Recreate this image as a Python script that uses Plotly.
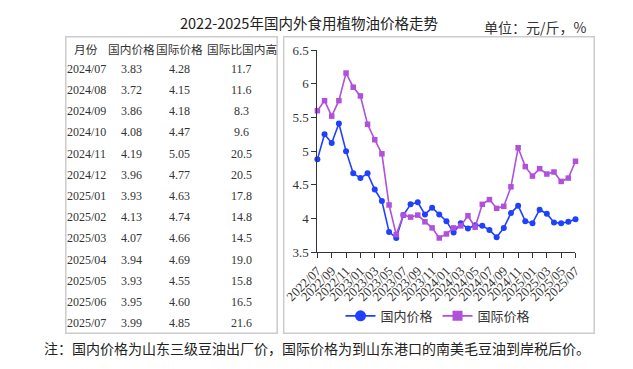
import plotly.graph_objects as go

W, H = 633, 369

months = ["2022/07", "2022/08", "2022/09", "2022/10", "2022/11", "2022/12",
          "2023/01", "2023/02", "2023/03", "2023/04", "2023/05", "2023/06",
          "2023/07", "2023/08", "2023/09", "2023/10", "2023/11", "2023/12",
          "2024/01", "2024/02", "2024/03", "2024/04", "2024/05", "2024/06",
          "2024/07", "2024/08", "2024/09", "2024/10", "2024/11", "2024/12",
          "2025/01", "2025/02", "2025/03", "2025/04", "2025/05", "2025/06",
          "2025/07"]
domestic = [4.88, 5.25, 5.12, 5.41, 5.00, 4.67, 4.60, 4.67, 4.43, 4.26, 3.80, 3.71,
            4.05, 4.21, 4.24, 4.06, 4.16, 4.06, 3.96, 3.79, 3.93, 3.85, 3.90, 3.89,
            3.83, 3.72, 3.86, 4.08, 4.19, 3.96, 3.93, 4.13, 4.07, 3.94, 3.93, 3.95,
            3.99]
international = [5.60, 5.75, 5.52, 5.75, 6.16, 5.95, 5.82, 5.40, 5.17, 4.96, 4.20, 3.76,
                 4.05, 4.02, 4.05, 3.95, 3.86, 3.71, 3.77, 3.86, 3.89, 4.04, 3.87, 4.21,
                 4.28, 4.15, 4.18, 4.47, 5.05, 4.77, 4.63, 4.74, 4.66, 4.69, 4.55, 4.60,
                 4.85]
tick_labels = ["2022/07", "2022/09", "2022/11", "2023/01", "2023/03", "2023/05",
               "2023/07", "2023/09", "2023/11", "2024/01", "2024/03", "2024/05",
               "2024/07", "2024/09", "2024/11", "2025/01", "2025/03", "2025/05",
               "2025/07"]

table_header = ["月份", "国内价格", "国际价格", "国际比国内高"]
table_months = ["2024/07", "2024/08", "2024/09", "2024/10", "2024/11", "2024/12",
                "2025/01", "2025/02", "2025/03", "2025/04", "2025/05", "2025/06",
                "2025/07"]
table_domestic = [3.83, 3.72, 3.86, 4.08, 4.19, 3.96, 3.93, 4.13, 4.07, 3.94, 3.93, 3.95, 3.99]
table_international = [4.28, 4.15, 4.18, 4.47, 5.05, 4.77, 4.63, 4.74, 4.66, 4.69, 4.55, 4.60, 4.85]
table_ratio = ["11.7", "11.6", "8.3", "9.6", "20.5", "20.5", "17.8", "14.8", "14.5",
               "19.0", "15.8", "16.5", "21.6"]

title_text = "2022-2025年国内外食用植物油价格走势"
unit_text = "单位：元/斤，%"
note_text = "注：国内价格为山东三级豆油出厂价，国际价格为到山东港口的南美毛豆油到岸税后价。"

BLUE = "#1f40ff"
PURPLE = "#b050dc"
CJK = "Noto Sans CJK SC"
SERIF = "Liberation Serif, Noto Sans CJK SC"


def px(x):
    return x / W


def py(y):
    return 1 - y / H


fig = go.Figure()

fig.add_trace(go.Scatter(
    x=months, y=domestic, name="国内价格", mode="lines+markers",
    line=dict(color=BLUE, width=1.6),
    marker=dict(symbol="circle", size=6, color=BLUE),
    cliponaxis=False, showlegend=False,
))
fig.add_trace(go.Scatter(
    x=months, y=international, name="国际价格", mode="lines+markers",
    line=dict(color=PURPLE, width=1.6),
    marker=dict(symbol="square", size=5.5, color=PURPLE),
    cliponaxis=False, showlegend=False,
))
# legend entries (larger symbols, as in the reference legend)
fig.add_trace(go.Scatter(
    x=[None], y=[None], name="国内价格", mode="lines+markers",
    line=dict(color=BLUE, width=1.6),
    marker=dict(symbol="circle", size=11, color=BLUE),
))
fig.add_trace(go.Scatter(
    x=[None], y=[None], name="国际价格", mode="lines+markers",
    line=dict(color=PURPLE, width=1.6),
    marker=dict(symbol="square", size=10, color=PURPLE),
))

annotations = []

# table (drawn as text from the table arrays)
col_x = [56, 104, 156, 222]
header_y = 43
row_y0, row_step = 64.5, 22.1
for cx, h in zip(col_x, table_header):
    annotations.append(dict(
        text=h, xref="paper", yref="paper", x=px(cx), y=py(header_y),
        xanchor="center", yanchor="middle", showarrow=False,
        font=dict(family=CJK, size=11.7, color="#333")))
columns = [table_months,
           [f"{v:.2f}" for v in table_domestic],
           [f"{v:.2f}" for v in table_international],
           table_ratio]
for cx, col in zip(col_x, columns):
    for i, val in enumerate(col):
        annotations.append(dict(
            text=val, xref="paper", yref="paper", x=px(cx), y=py(row_y0 + row_step * i),
            xanchor="center", yanchor="middle", showarrow=False,
            font=dict(family=SERIF, size=12, color="#333")))

annotations += [
    dict(text=title_text, xref="paper", yref="paper", x=px(294), y=py(16),
         xanchor="center", yanchor="middle", showarrow=False,
         font=dict(family=CJK, size=14.5, color="#222")),
    dict(text=unit_text, xref="paper", yref="paper", x=px(536), y=py(21),
         xanchor="center", yanchor="middle", showarrow=False,
         font=dict(family=CJK, size=14, color="#333")),
    dict(text=note_text, xref="paper", yref="paper", x=px(303), y=py(355),
         xanchor="center", yanchor="middle", showarrow=False,
         font=dict(family=CJK, size=14, color="#222")),
]

fig.update_layout(
    width=W, height=H, autosize=False,
    margin=dict(l=0, r=0, t=0, b=0),
    paper_bgcolor="white", plot_bgcolor="white",
    showlegend=True,
    legend=dict(
        orientation="h", x=px(432), xanchor="center", y=py(322), yanchor="middle",
        font=dict(family=CJK, size=13, color="#333"),
        bgcolor="rgba(0,0,0,0)",
    ),
    xaxis=dict(
        domain=[px(303), px(579)],
        type="category",
        range=[0, len(months) - 1],
        tickmode="array", tickvals=tick_labels, ticktext=tick_labels,
        tickangle=-45,
        showline=True, linecolor="#333", linewidth=1,
        ticks="outside", ticklen=5, tickcolor="#333",
        showgrid=False, zeroline=False,
        tickfont=dict(family=SERIF, size=13, color="#333"),
    ),
    yaxis=dict(
        domain=[py(255.5), py(45)],
        range=[3.5, 6.5],
        dtick=0.5, tick0=3.5,
        showline=True, linecolor="#333", linewidth=1,
        ticks="outside", ticklen=5, tickcolor="#333",
        showgrid=False, zeroline=False,
        tickfont=dict(family=SERIF, size=13, color="#333"),
    ),
    shapes=[
        dict(type="rect", xref="paper", yref="paper",
             x0=px(34), x1=px(260), y0=py(340), y1=py(31),
             line=dict(color="#cccccc", width=1.5)),
        dict(type="rect", xref="paper", yref="paper",
             x0=px(267), x1=px(599), y0=py(340), y1=py(31),
             line=dict(color="#cccccc", width=1.5)),
    ],
    annotations=annotations,
)

fig.write_html(
    "out.html",
    config={"displayModeBar": False},
    post_script="document.body.style.margin='0';document.body.style.overflow='hidden';",
)
